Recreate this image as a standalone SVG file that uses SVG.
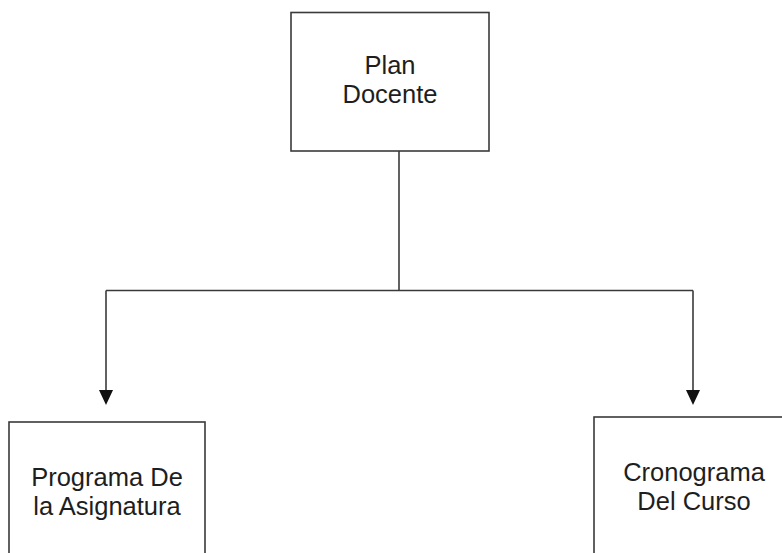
<svg xmlns="http://www.w3.org/2000/svg" width="782" height="553" viewBox="0 0 782 553">
  <defs>
    <style>
      .box { fill: #ffffff; stroke: #3a3a3a; stroke-width: 1.6; }
      .label { font-family: "Liberation Sans", Arial, sans-serif; font-size: 25.5px; fill: #1e1e1e; text-anchor: middle; }
      .wire { fill: none; stroke: #3a3a3a; stroke-width: 1.6; }
      .head { fill: #111111; }
    </style>
  </defs>
  <rect width="782" height="553" fill="#ffffff"/>

  <!-- connectors: trunk, crossbar and the two drops with their heads -->
  <g id="connectors">
    <line class="wire" x1="399" y1="151" x2="399" y2="290.5"/>
    <line class="wire" x1="106" y1="290.5" x2="693" y2="290.5"/>
    <line class="wire" x1="106" y1="290.5" x2="106" y2="392"/>
    <path class="head" d="M99,390 L113,390 L106,405 Z"/>
    <line class="wire" x1="693" y1="290.5" x2="693" y2="392"/>
    <path class="head" d="M686,390 L700,390 L693,405 Z"/>
  </g>

  <!-- top node -->
  <g id="plan-docente">
    <rect class="box" x="291" y="12.5" width="198" height="138.5"/>
    <text class="label" x="390" y="74">Plan</text>
    <text class="label" x="390" y="103">Docente</text>
  </g>

  <!-- lower left node -->
  <g id="programa-asignatura">
    <rect class="box" x="9" y="422" width="196" height="150"/>
    <text class="label" x="107" y="486">Programa De</text>
    <text class="label" x="107" y="515">la Asignatura</text>
  </g>

  <!-- lower right node -->
  <g id="cronograma-curso">
    <rect class="box" x="594" y="417" width="199" height="150"/>
    <text class="label" x="694" y="481">Cronograma</text>
    <text class="label" x="694" y="510">Del Curso</text>
  </g>
</svg>
